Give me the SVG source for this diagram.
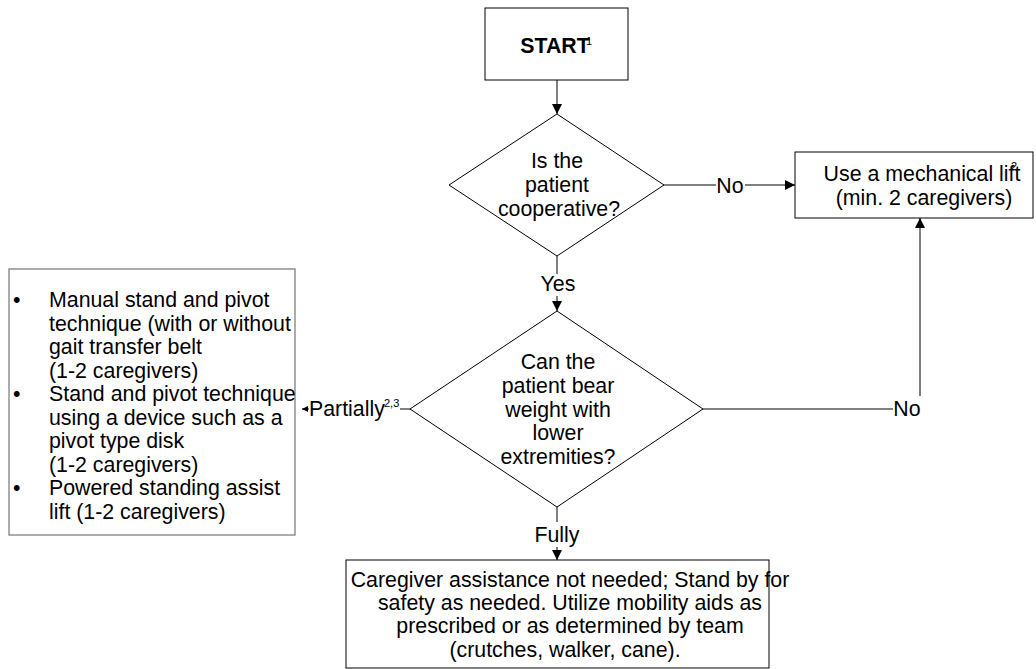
<svg xmlns="http://www.w3.org/2000/svg" width="1036" height="669" viewBox="0 0 1036 669">
<style>
text{font-family:"Liberation Sans",Arial,sans-serif;font-size:21.33px;fill:#000}
.c{text-anchor:middle}
.b{font-weight:bold}
.sup{font-size:11px}
.box{fill:#fff;stroke:#000;stroke-width:1}
.gbox{fill:#fff;stroke:#808080;stroke-width:1.3}
.dia{fill:#fff;stroke:#000;stroke-width:1}
.ln{fill:none;stroke:#000;stroke-width:1}
.bg{fill:#fff}
</style>
<defs>
<marker id="ah" markerWidth="10" markerHeight="10" refX="10" refY="5" orient="auto" markerUnits="userSpaceOnUse"><path d="M0,0 L10,5 L0,10 Z" fill="#000"/></marker>
<marker id="ahs" markerWidth="6" markerHeight="6" refX="6" refY="3" orient="auto" markerUnits="userSpaceOnUse"><path d="M0,0 L6,3 L0,6 Z" fill="#000"/></marker>
</defs>
<g id="connectors">
<line class="ln" x1="557" y1="80" x2="557" y2="114" marker-end="url(#ah)"/>
<line class="ln" x1="664" y1="185" x2="795" y2="185" marker-end="url(#ah)"/>
<line class="ln" x1="557" y1="256" x2="557" y2="311" marker-end="url(#ah)"/>
<path class="ln" d="M703,409 H920 V218" marker-end="url(#ah)"/>
<line class="ln" x1="410" y1="409" x2="302" y2="409" marker-end="url(#ahs)"/>
<line class="ln" x1="557" y1="507" x2="557" y2="560" marker-end="url(#ah)"/>
<rect class="bg" x="716" y="176" width="29" height="20"/>
<text class="c" x="730" y="193">No</text>
<rect class="bg" x="540" y="274" width="36" height="22"/>
<text class="c" x="558" y="291">Yes</text>
<rect class="bg" x="893" y="396" width="30" height="22"/>
<text class="c" x="907" y="416">No</text>
<rect class="bg" x="309" y="398" width="91" height="22"/>
<text x="309" y="416">Partially</text>
<text class="sup" x="384" y="407">2,3</text>
<rect class="bg" x="535" y="522" width="46" height="25"/>
<text class="c" x="557" y="542">Fully</text>
</g>
<g id="start">
<rect class="box" x="485" y="8" width="143" height="72"/>
<text class="c b" x="555" y="53">START</text>
<text class="sup" x="586" y="45">1</text>
</g>
<g id="q1">
<polygon class="dia" points="557,114 664,185 557,256 449,185"/>
<text class="c" x="557" y="168">Is the</text>
<text class="c" x="557" y="192">patient</text>
<text class="c" x="559" y="216">cooperative?</text>
</g>
<g id="lift">
<rect class="box" x="795" y="152" width="238" height="66"/>
<text class="c" x="922" y="181">Use a mechanical lift</text>
<text class="sup" x="1011" y="170">2</text>
<text class="c" x="924" y="205">(min. 2 caregivers)</text>
</g>
<g id="q2">
<polygon class="dia" points="557,311 703,409 557,507 410,409"/>
<text class="c" x="558" y="369">Can the</text>
<text class="c" x="558" y="393">patient bear</text>
<text class="c" x="558" y="417">weight with</text>
<text class="c" x="558" y="440">lower</text>
<text class="c" x="558" y="464">extremities?</text>
</g>
<g id="partial">
<rect class="gbox" x="9" y="269" width="286" height="266"/>
<text x="13" y="307">•</text>
<text x="49" y="307">Manual stand and pivot</text>
<text x="49" y="330.5">technique (with or without</text>
<text x="49" y="354">gait transfer belt</text>
<text x="49" y="377.5">(1-2 caregivers)</text>
<text x="13" y="401">•</text>
<text x="49" y="401">Stand and pivot technique</text>
<text x="49" y="424.5">using a device such as a</text>
<text x="49" y="448">pivot type disk</text>
<text x="49" y="471.5">(1-2 caregivers)</text>
<text x="13" y="495">•</text>
<text x="49" y="495">Powered standing assist</text>
<text x="49" y="518.5">lift (1-2 caregivers)</text>
</g>
<g id="fully">
<rect class="box" x="346" y="560" width="423" height="108"/>
<text class="c" x="570" y="587">Caregiver assistance not needed; Stand by for</text>
<text class="c" x="570" y="610">safety as needed. Utilize mobility aids as</text>
<text class="c" x="570" y="633">prescribed or as determined by team</text>
<text class="c" x="565" y="657">(crutches, walker, cane).</text>
</g>
</svg>
